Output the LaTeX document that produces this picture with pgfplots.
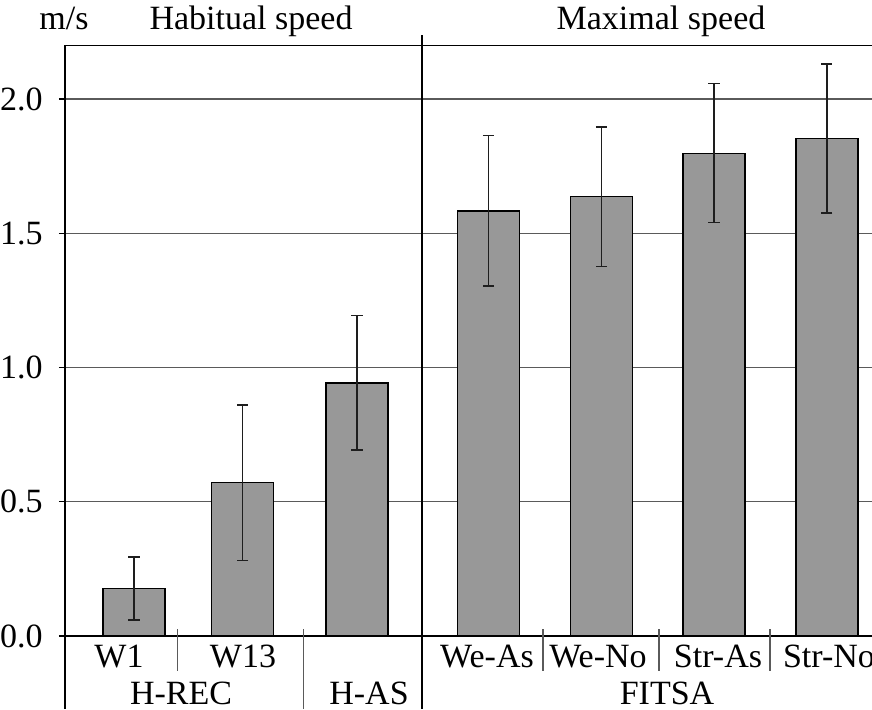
\documentclass[border=0pt]{standalone}
\usepackage{fontspec}
\setmainfont{Liberation Serif}
\usepackage{pgfplots}
\pgfplotsset{compat=1.18}
\definecolor{barfill}{RGB}{152,152,152}
\definecolor{gridc}{RGB}{90,90,90}
\definecolor{errc}{RGB}{30,30,30}
\begin{document}
\fontsize{17}{20}\selectfont
\begin{tikzpicture}[font=\fontsize{17}{20}\selectfont]
\clip (-32.5pt,-36.5pt) rectangle (403.5pt,318pt);
\begin{axis}[
  at={(0,0)}, anchor=south west,
  x=0.5pt, y=134.25pt,
  xmin=65, xmax=912, ymin=0, ymax=2.2,
  clip=false,
  ybar, bar width=31pt,
  axis line style={black, line width=0.7pt},
  xtick=\empty,
  ytick={0,0.5,1,1.5,2},
  ytick pos=left,
  tick align=outside,
  major tick length=3pt,
  tick style={black, line width=0.6pt},
  ymajorgrids,
  grid style={gridc, line width=0.6pt},
  yticklabel style={anchor=east, inner sep=0pt, xshift=-8pt},
  /pgf/number format/.cd, fixed, fixed zerofill, precision=1, assume math mode=true,
]
\addplot[ybar, fill=barfill, draw=black, line width=0.7pt,
  error bars/.cd, y dir=both, y explicit,
  error bar style={errc, line width=0.7pt},
  error mark options={errc, line width=0.7pt, mark size=2.8pt, rotate=90}]
coordinates {
  (134,0.177)   +- (0,0.118)
  (242.7,0.571) +- (0,0.290)
  (357,0.943)   +- (0,0.250)
  (488.5,1.583) +- (0,0.280)
  (601.5,1.636) +- (0,0.259)
  (714,1.798)   +- (0,0.259)
  (826.8,1.853) +- (0,0.277)
};
% separators and extended axis lines
\draw[black, line width=0.7pt] (axis cs:65,0) -- (axis cs:65,-0.272);
\draw[black, line width=0.7pt] (axis cs:422,2.238) -- (axis cs:422,-0.272);
\draw[gridc, line width=0.6pt] (axis cs:177.7,0.026) -- (axis cs:177.7,-0.130);
\draw[gridc, line width=0.6pt] (axis cs:303.7,0.026) -- (axis cs:303.7,-0.272);
\draw[gridc, line width=0.6pt] (axis cs:543,0.026) -- (axis cs:543,-0.130);
\draw[gridc, line width=0.6pt] (axis cs:659,0.026) -- (axis cs:659,-0.130);
\draw[gridc, line width=0.6pt] (axis cs:770,0.026) -- (axis cs:770,-0.130);
% category labels
\node[anchor=base] at (axis cs:119,-0.1155) {W1};
\node[anchor=base] at (axis cs:243,-0.1155) {W13};
\node[anchor=base] at (axis cs:487,-0.1155) {We-As};
\node[anchor=base] at (axis cs:598,-0.1155) {We-No};
\node[anchor=base] at (axis cs:718,-0.1155) {Str-As};
\node[anchor=base] at (axis cs:829,-0.1155) {Str-No};
\node[anchor=base] at (axis cs:181,-0.2533) {H-REC};
\node[anchor=base] at (axis cs:369,-0.2533) {H-AS};
\node[anchor=base] at (axis cs:667,-0.2533) {FITSA};
% titles
\node[anchor=base] at (axis cs:64,2.257) {m/s};
\node[anchor=base] at (axis cs:251,2.257) {Habitual speed};
\node[anchor=base] at (axis cs:661,2.257) {Maximal speed};
\end{axis}
\end{tikzpicture}
\end{document}
